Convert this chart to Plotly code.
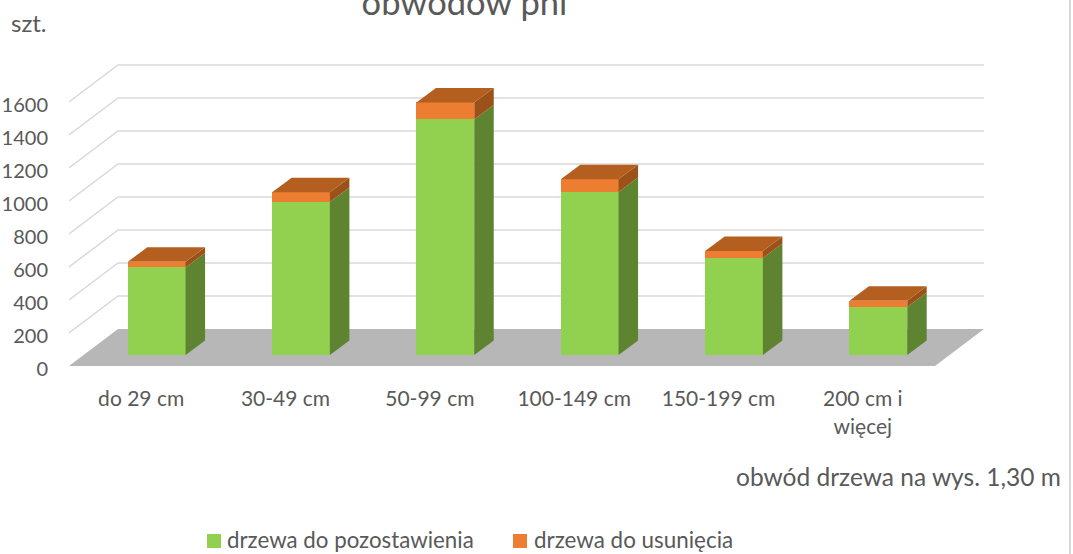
import plotly.graph_objects as go

# ---- data ----
categories = ["do 29 cm", "30-49 cm", "50-99 cm", "100-149 cm", "150-199 cm", "200 cm i<br>więcej"]
keep_values = [531, 927, 1428, 988, 588, 291]
remove_values = [34, 60, 103, 77, 42, 38]
y_ticks = [0, 200, 400, 600, 800, 1000, 1200, 1400, 1600]

# ---- geometry (axis units) ----
PX_X = 144.33      # px per category
PX_Y = 0.165       # px per value unit
L, R, T, B = 69, 984, 60, 366
W, H = 1073, 554
x_lo = -0.5
x_hi = x_lo + (R - L) / PX_X
y_hi = (B - T) / PX_Y
wall_dx, wall_dy = 49 / PX_X, 37 / PX_Y
bar_dx, bar_dy = 19.5 / PX_X, 14.5 / PX_Y
bar_w = 57.8 / PX_X
bar_shift = 15.5 / PX_X
bar_lift = 11 / PX_Y
floor_right = x_lo + 6

FONT = "Lato, Carlito, Calibri, sans-serif"
TXT = "#595959"
GREEN, GREEN_SIDE = "#92d050", "#5e8331"
ORANGE, ORANGE_SIDE, ORANGE_TOP = "#ed7d31", "#9c5119", "#b45f20"

fig = go.Figure()

xs = [i + bar_shift for i in range(len(categories))]
tops_keep = [bar_lift + v for v in keep_values]

fig.add_trace(go.Bar(x=xs, y=keep_values, base=[bar_lift] * len(xs), width=bar_w,
                     name="drzewa do pozostawienia", marker=dict(color=GREEN, line_width=0)))
fig.add_trace(go.Bar(x=xs, y=remove_values, base=tops_keep, width=bar_w,
                     name="drzewa do usunięcia", marker=dict(color=ORANGE, line_width=0)))


def face(px, py, color):
    fig.add_trace(go.Scatter(x=px, y=py, mode="lines", fill="toself", fillcolor=color,
                             line=dict(width=0, color=color), hoverinfo="skip", showlegend=False))


for xc, k, r in zip(xs, keep_values, remove_values):
    x1 = xc + bar_w / 2
    x0 = xc - bar_w / 2
    y_k = bar_lift + k
    y_t = y_k + r
    face([x1, x1 + bar_dx, x1 + bar_dx, x1], [bar_lift, bar_lift + bar_dy, y_k + bar_dy, y_k], GREEN_SIDE)
    face([x1, x1 + bar_dx, x1 + bar_dx, x1], [y_k, y_k + bar_dy, y_t + bar_dy, y_t], ORANGE_SIDE)
    face([x0, x0 + bar_dx, x1 + bar_dx, x1], [y_t, y_t + bar_dy, y_t + bar_dy, y_t], ORANGE_TOP)

shapes = []
# floor
shapes.append(dict(type="path", layer="below", xref="x", yref="y",
                   path=f"M{x_lo},0 L{x_lo + wall_dx},{wall_dy} L{x_hi},{wall_dy} L{floor_right},0 Z",
                   fillcolor="#b7b7b7", line=dict(width=0)))
# side and back wall gridlines
for v in y_ticks:
    if v == 0:
        continue
    shapes.append(dict(type="path", layer="below", xref="x", yref="y",
                       path=f"M{x_lo},{v} L{x_lo + wall_dx},{v + wall_dy} L{x_hi},{v + wall_dy}",
                       line=dict(color="#d9d9d9", width=1.5)))
# thin frame line at the right edge of the picture
shapes.append(dict(type="line", xref="paper", yref="paper",
                   x0=(1070 - L) / (R - L), x1=(1070 - L) / (R - L), y0=-1, y1=2,
                   line=dict(color="#d9d9d9", width=2)))
# legend swatches
for x_px, col in [(207, GREEN), (513, ORANGE)]:
    shapes.append(dict(type="rect", xref="paper", yref="paper",
                       x0=(x_px - L) / (R - L), x1=(x_px + 14 - L) / (R - L),
                       y0=(B - 548) / (B - T), y1=(B - 534) / (B - T),
                       fillcolor=col, line=dict(width=0)))


def px_note(text, x_px, y_px, size, anchor="left"):
    return dict(text=text, xref="paper", yref="paper",
                x=(x_px - L) / (R - L), y=(B - y_px) / (B - T),
                xanchor=anchor, yanchor="middle", showarrow=False,
                font=dict(family=FONT, size=size, color=TXT))


annotations = [
    px_note("szt.", 9, 22, 24),
    px_note("obwód drzewa na wys. 1,30 m", 734, 476, 24.5),
    px_note("drzewa do pozostawienia", 225, 539, 22.3),
    px_note("drzewa do usunięcia", 532, 539, 22.4),
]

fig.update_layout(
    width=W, height=H, autosize=False,
    margin=dict(l=L, r=W - R, t=T, b=H - B, pad=0),
    paper_bgcolor="white", plot_bgcolor="rgba(0,0,0,0)",
    barmode="overlay", bargap=0, showlegend=False,
    font=dict(family=FONT, color=TXT, size=20),
    title=dict(text="obwodów pni", x=464.5 / W, xanchor="center",
               y=1 - 3 / H, yanchor="middle", font=dict(family=FONT, size=34.5, color=TXT)),
    xaxis=dict(range=[x_lo, x_hi], tickmode="array", tickvals=list(range(len(categories))),
               ticktext=categories, showgrid=False, zeroline=False, showline=False, automargin=False,
               ticks="outside", ticklen=14, tickcolor="rgba(0,0,0,0)",
               tickfont=dict(family=FONT, size=21, color=TXT)),
    yaxis=dict(range=[0, y_hi], tickmode="array", tickvals=y_ticks, showgrid=False, zeroline=False,
               showline=False, automargin=False, ticks="outside", ticklen=16, tickcolor="rgba(0,0,0,0)",
               ticklabelshift=3,
               tickfont=dict(family=FONT, size=20, color=TXT)),
    shapes=shapes, annotations=annotations,
)

fig.write_html("out.html", config=dict(displayModeBar=False),
               post_script="document.body.style.margin='0';document.documentElement.style.overflow='hidden';")
